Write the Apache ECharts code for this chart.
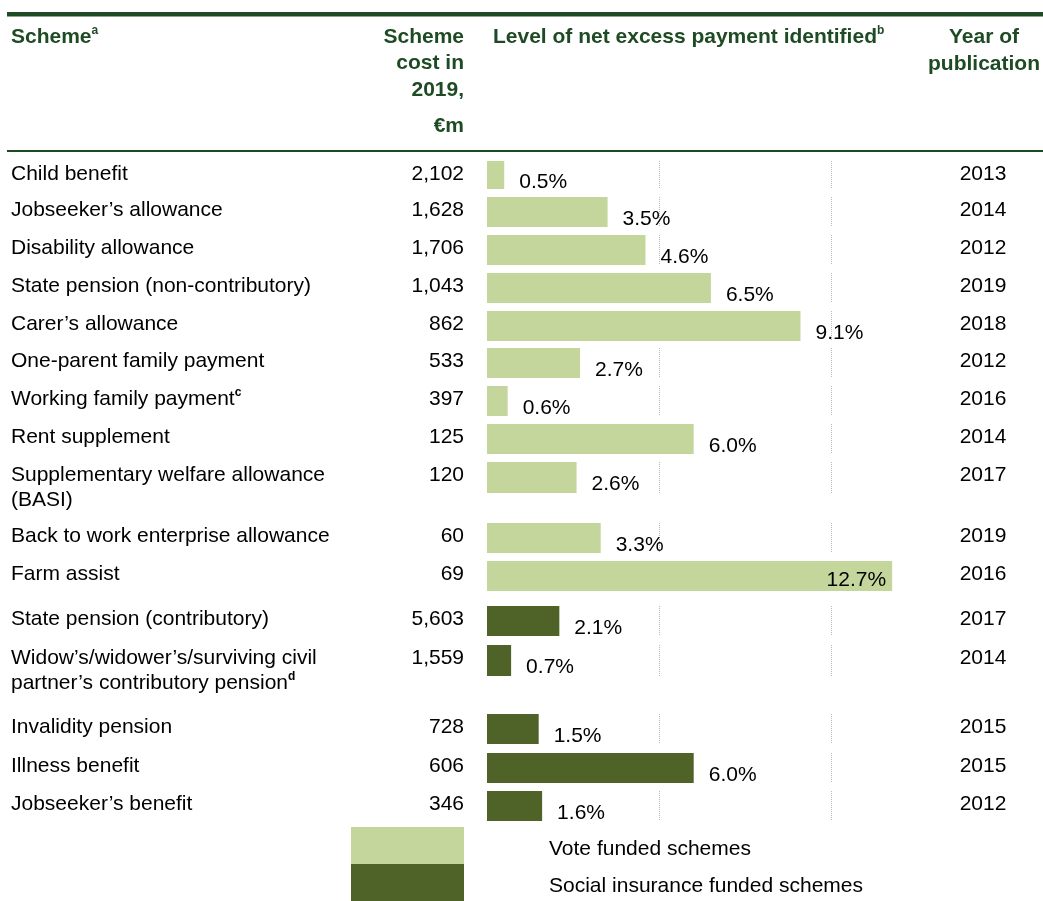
<!DOCTYPE html>
<html>
<head>
<meta charset="utf-8">
<script src="https://cdn.jsdelivr.net/npm/echarts@6/dist/echarts.min.js"></script>
<style>
  html, body { margin: 0; padding: 0; background: #fff; }
  #chart { width: 1043px; height: 901px; }
</style>
</head>
<body>
<div id="chart"></div>
<script>
// ---- Data ----
const schemes = [
  'Child benefit',
  'Jobseeker’s allowance',
  'Disability allowance',
  'State pension (non-contributory)',
  'Carer’s allowance',
  'One-parent family payment',
  'Working family payment',
  'Rent supplement',
  'Supplementary welfare allowance\n(BASI)',
  'Back to work enterprise allowance',
  'Farm assist',
  'State pension (contributory)',
  'Widow’s/widower’s/surviving civil\npartner’s contributory pension',
  'Invalidity pension',
  'Illness benefit',
  'Jobseeker’s benefit'
];
const schemeNotes = ['', '', '', '', '', '', 'c', '', '', '', '', '', 'd', '', '', ''];
const costs2019 = [2102, 1628, 1706, 1043, 862, 533, 397, 125, 120, 60, 69, 5603, 1559, 728, 606, 346];
const excessRates = [0.5, 3.5, 4.6, 6.5, 9.1, 2.7, 0.6, 6.0, 2.6, 3.3, 12.7, 2.1, 0.7, 1.5, 6.0, 1.6];
const pubYears = [2013, 2014, 2012, 2019, 2018, 2012, 2016, 2014, 2017, 2019, 2016, 2017, 2014, 2015, 2015, 2012];
const fundingGroups = ['Vote funded schemes', 'Social insurance funded schemes'];
const fundingOf = [0, 0, 0, 0, 0, 0, 0, 0, 0, 0, 0, 1, 1, 1, 1, 1];
const axisMax = 10;
const axisInterval = 5;

// ---- Layout / style ----
const FONT = '"Liberation Sans", Arial, Helvetica, sans-serif';
const HEAD = '#1e4b24';
const INK = '#000000';
const GROUP_COLORS = ['#c4d69b', '#4f6228'];
const BAR_LEFT = 487;
const rowTop = [161, 197, 235, 273, 311, 348, 386, 424, 462, 523, 561, 606, 645, 714, 753, 791];
const rowHeight = [28, 30, 30, 30, 30, 30, 30, 30, 31, 30, 30, 30, 31, 30, 30, 30];
// pixels per percentage point; the farm assist row is drawn on a compressed scale
const rowPxPerPoint = schemes.map((s) => (s === 'Farm assist' ? 31.9 : 34.45));
const insideLabelRows = schemes.map((s) => s === 'Farm assist');

const grids = [], xAxes = [], yAxes = [], series = [];
schemes.forEach((name, i) => {
  grids.push({
    left: BAR_LEFT, top: rowTop[i],
    width: axisMax * rowPxPerPoint[i], height: rowHeight[i]
  });
  xAxes.push({
    gridIndex: i, type: 'value', min: 0, max: axisMax, interval: axisInterval,
    axisLabel: { show: false }, axisLine: { show: false }, axisTick: { show: false },
    splitLine: {
      show: true, showMinLine: false,
      lineStyle: { color: '#b8b8b8', type: 'dotted', width: 1 }
    }
  });
  yAxes.push({ gridIndex: i, type: 'category', data: [name], show: false });
  const inside = insideLabelRows[i];
  series.push({
    type: 'bar',
    name: fundingGroups[fundingOf[i]],
    xAxisIndex: i, yAxisIndex: i,
    data: [excessRates[i]],
    barWidth: '100%',
    clip: false,
    silent: true,
    itemStyle: { color: GROUP_COLORS[fundingOf[i]] },
    label: {
      show: true,
      position: inside ? 'insideRight' : 'right',
      distance: inside ? 6 : 15,
      offset: [0, inside ? 4 : 7],
      formatter: (p) => p.value.toFixed(1) + '%',
      fontFamily: FONT, fontSize: 21, color: INK
    }
  });
});

// ---- Table text ----
const graphics = [];
graphics.push({ type: 'rect', shape: { x: 7, y: 12, width: 1036, height: 4.5 }, style: { fill: HEAD }, silent: true });
graphics.push({ type: 'rect', shape: { x: 7, y: 150, width: 1036, height: 2 }, style: { fill: HEAD }, silent: true });

function txt(x, y, text, opts) {
  return {
    type: 'text', x: x, y: y, silent: true,
    style: Object.assign({
      text: text, fill: INK, fontFamily: FONT, fontSize: 21,
      align: 'left', verticalAlign: 'middle'
    }, opts || {})
  };
}
const headRich = {
  h: { fontFamily: FONT, fontSize: 21, fontWeight: 'bold', fill: HEAD, lineHeight: 25 },
  s: { fontFamily: FONT, fontSize: 12, fontWeight: 'bold', fill: HEAD, lineHeight: 14, verticalAlign: 'top' }
};
graphics.push(txt(11, 37, '{h|Scheme}{s|a}', { rich: headRich, fill: HEAD }));
graphics.push(txt(493, 37, '{h|Level of net excess payment identified}{s|b}', { rich: headRich, fill: HEAD }));
[['Scheme', 37], ['cost in', 63.5], ['2019,', 90], ['€m', 126]].forEach(([t, y]) => {
  graphics.push(txt(464, y, t, { fill: HEAD, fontWeight: 'bold', align: 'right' }));
});
[['Year of', 37], ['publication', 64]].forEach(([t, y]) => {
  graphics.push(txt(984, y, t, { fill: HEAD, fontWeight: 'bold', align: 'center' }));
});

const bodyRich = {
  n: { fontFamily: FONT, fontSize: 21, fill: INK, lineHeight: 25 },
  s: { fontFamily: FONT, fontSize: 12, fontWeight: 'bold', fill: INK, lineHeight: 14, verticalAlign: 'top' }
};
schemes.forEach((name, i) => {
  const lines = name.split('\n');
  const text = lines.map((l, k) =>
    '{n|' + l + '}' + (k === lines.length - 1 && schemeNotes[i] ? '{s|' + schemeNotes[i] + '}' : '')
  ).join('\n');
  graphics.push(txt(11, rowTop[i] + 0.5, text, { rich: bodyRich, verticalAlign: 'top' }));
  graphics.push(txt(464, rowTop[i] + 13, costs2019[i].toLocaleString('en-US'), { align: 'right' }));
  graphics.push(txt(983, rowTop[i] + 13, String(pubYears[i]), { align: 'center' }));
});

const chart = echarts.init(document.getElementById('chart'), null, { renderer: 'canvas' });
chart.setOption({
  animation: false,
  backgroundColor: '#ffffff',
  grid: grids,
  xAxis: xAxes,
  yAxis: yAxes,
  series: series,
  legend: {
    data: fundingGroups,
    orient: 'vertical',
    left: 351, top: 827, bottom: 0,
    padding: 0,
    itemWidth: 113, itemHeight: 37, itemGap: 0,
    icon: 'rect',
    selectedMode: false,
    formatter: (name) => '{g|}{t|' + name + '}',
    textStyle: {
      fontFamily: FONT, fontSize: 21, color: INK,
      rich: {
        g: { width: 80 },
        t: { fontFamily: FONT, fontSize: 21, color: INK, padding: [8, 0, 0, 0] }
      }
    }
  },
  graphic: { elements: graphics }
});
</script>
</body>
</html>
